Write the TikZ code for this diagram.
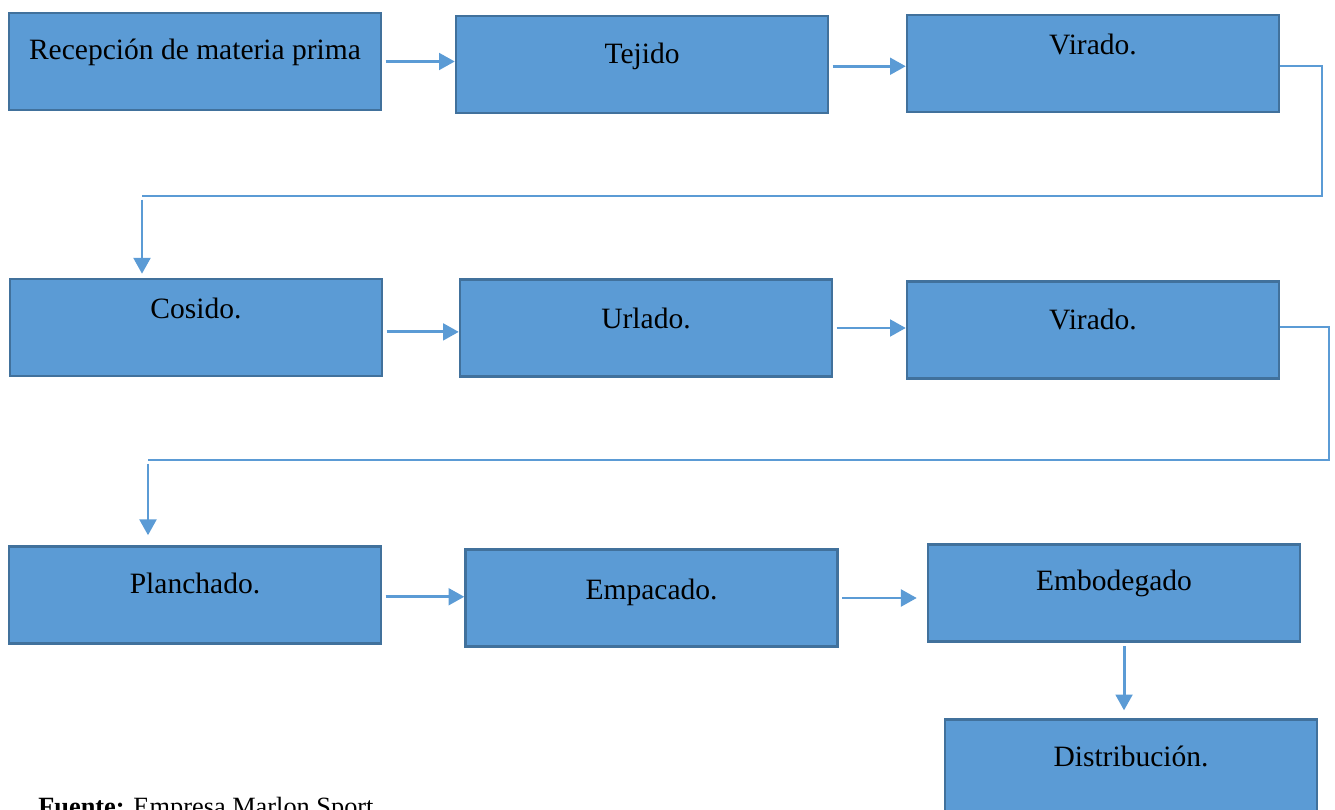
\documentclass[tikz,border=0pt]{standalone}
\usepackage{fontspec}
\setmainfont{Liberation Serif}
\usetikzlibrary{arrows.meta}
\definecolor{boxblue}{HTML}{5B9BD5}
\definecolor{boxedge}{HTML}{41719C}
\definecolor{lineblue}{HTML}{5B9BD5}

\begin{document}
\begin{tikzpicture}[x=0.02cm, y=-0.02cm]
\tikzstyle{box}=[draw=boxedge, fill=boxblue, line width=1.4pt, minimum width=7.44cm, minimum height=1.94cm, inner sep=0pt]
\tikzstyle{lbl}=[font=\fontsize{16.8}{20}\selectfont, text height=1.5ex, text depth=.25ex, inner sep=0pt]
\tikzstyle{arrow}=[draw=lineblue, line width=1.7pt, -{Triangle[length=9pt, width=9.5pt]}, shorten <=2pt]
\tikzstyle{line}=[draw=lineblue, line width=1.1pt]
\useasboundingbox (0,0) rectangle (1335,810);
% row 1
\node (rec) [box] at (195,61.5) {};
\node (recT) [lbl] at (195,54) {Recepción de materia prima};
\node (tej) [box] at (642,64.5) {};
\node (tejT) [lbl] at (642,58) {Tejido};
\node (vir1) [box] at (1093,63.5) {};
\node (vir1T) [lbl] at (1093,49) {Virado.};
\draw [arrow] (rec.east) -- (rec.east -| tej.west);
\draw [arrow] ([yshift=-1pt]tej.east) -- ([yshift=-1pt]tej.east -| vir1.west);
% row 2
\node (cos) [box] at (196,327.5) {};
\node (cosT) [lbl] at (196,313) {Cosido.};
\node (url) [box] at (646,328) {};
\node (urlT) [lbl] at (646,323) {Urlado.};
\node (vir2) [box] at (1093,330) {};
\node (vir2T) [lbl] at (1093,324) {Virado.};
\draw [arrow] ([yshift=-2.5pt]cos.east) -- ([yshift=-2.5pt]cos.east -| url.west);
\draw [arrow] (url.east) -- (url.east -| vir2.west);
% row 3
\node (pla) [box] at (195,595) {};
\node (plaT) [lbl] at (195,588) {Planchado.};
\node (emp) [box] at (651.5,598) {};
\node (empT) [lbl] at (651.5,594) {Empacado.};
\node (emb) [box] at (1114,593) {};
\node (embT) [lbl] at (1114,585) {Embodegado};
\node (dis) [box] at (1131,768) {};
\node (disT) [lbl] at (1131,761) {Distribución.};
\draw [arrow] ([yshift=-1pt]pla.east) -- ([yshift=-1pt]pla.east -| emp.west);
\draw [arrow, shorten >=5.7pt] (emp.east) -- (emp.east -| emb.west);
\draw [arrow, shorten >=4.5pt] ([xshift=5.7pt]emb.south) -- ([xshift=5.7pt]emb.south |- dis.north);
% returns between rows
\coordinate (r1) at (1322,196);
\coordinate (k1) at (142,196);
\draw [line] ([yshift=-1.4pt]vir1.east) -| (r1) -- (k1);
\draw [arrow, shorten >=2.3pt] (k1) -- (k1 |- cos.north);
\coordinate (r2) at (1329,460);
\coordinate (k2) at (148,460);
\draw [line] ([yshift=1.7pt]vir2.east) -| (r2) -- (k2);
\draw [arrow, shorten >=5.7pt] (k2) -- (k2 |- pla.north);
% source note
\node (src) [anchor=base west, inner sep=0pt, font=\fontsize{15}{18}\selectfont] at (38,815) {\textbf{Fuente:} Empresa Marlon Sport};
\end{tikzpicture}
\end{document}
